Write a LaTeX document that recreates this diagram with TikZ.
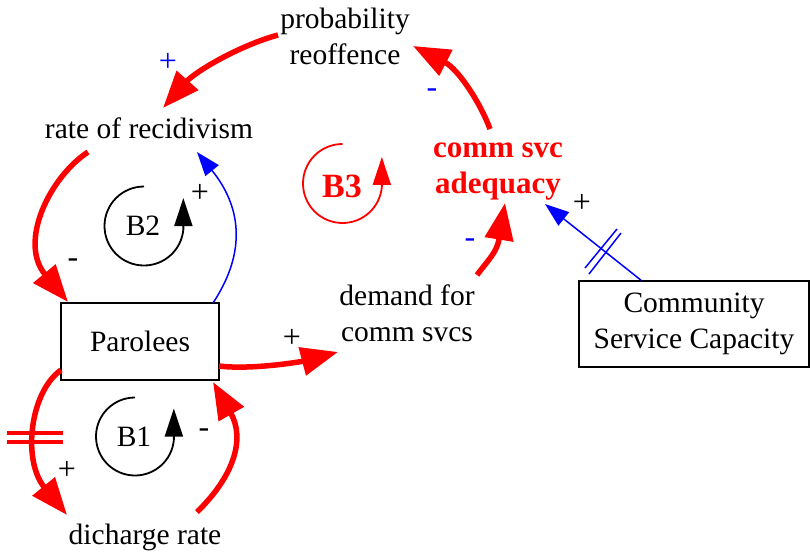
\documentclass[tikz,border=0pt]{standalone}
\usepackage{fontspec}
\setmainfont{Liberation Serif}
\usetikzlibrary{arrows.meta}
\definecolor{cldred}{RGB}{255,0,0}
\definecolor{cldblue}{RGB}{0,0,255}

\begin{document}
\begin{tikzpicture}[x=1pt,y=-1pt,
  every node/.style={inner sep=0pt, font=\fontsize{29.5}{36}\selectfont},
  varlabel/.style={align=center},
  boldlabel/.style={align=center, text=cldred, font=\fontsize{31}{36}\selectfont\bfseries},
  polarity/.style={font=\fontsize{32}{36}\selectfont},
  stock/.style={draw, line width=1.6pt, minimum width=158pt, minimum height=77pt},
  major/.style={draw=cldred, line width=5.5pt, -{Triangle[length=37pt,width=28pt]}},
  minor/.style={draw=cldblue, line width=1.5pt, -{Triangle[length=24pt,width=17pt]}},
  loopmark/.style={line width=1.8pt, -{Triangle[length=28pt,width=18pt]}},
  delaymark/.style={line width=4.5pt, draw=cldred},
  bluedelay/.style={line width=1.5pt, draw=cldblue}
]
\useasboundingbox (0,0) rectangle (811,557);

% variables
\node[varlabel] (prob) at (345,36) {probability\\reoffence};
\node[anchor=base] (rr) at (149,138) {rate of recidivism};
\node[stock] (par) at (140,341.5) {Parolees};
\node[anchor=base] (dc) at (145,544) {dicharge rate};
\node[varlabel] (dem) at (407,313) {demand for\\comm svcs};
\node[boldlabel] (adeq) at (498,172) {comm svc\\adequacy};
\node[stock, align=center, minimum width=230pt, minimum height=86pt] (comm) at (694,324) {Community\\Service Capacity};

% loop identifiers
\node (b2) at (143,226) {B2};
\node (b1) at (134,436.5) {B1};
\node[text=cldred, font=\fontsize{34}{36}\selectfont\bfseries] (b3) at (342,186.5) {B3};

\draw[loopmark] ([shift={(1,-39.5)}]b2.center) arc[start angle=-90, end angle=-355, radius=39.5] -- ++(0,-31.4);
\draw[loopmark] ([shift={(1,-39)}]b1.center) arc[start angle=-90, end angle=-355, radius=39] -- ++(0,-31.4);
\draw[loopmark, cldred] ([shift={(0.5,-42.5)}]b3.center) arc[start angle=-90, end angle=-355, radius=39.5] -- ++(0,-30);

% causal links
\draw[major] ([shift={(-67,-1)}]prob.center) .. controls +(-40,11) and +(32,-36) .. ([shift={(14,-30)}]rr.base);
\draw[major] ([shift={(-61,14)}]rr.base) .. controls +(-38,25) and +(-50,-60) .. ([shift={(-72,-39.5)}]par.center);
\draw[minor] ([shift={(73,-38.5)}]par.center) .. controls +(35,-53) and +(43,53) .. ([shift={(48,14)}]rr.base);
\draw[major] ([shift={(-79,28.5)}]par.center) .. controls +(-31,22) and +(-45,-55) .. ([shift={(-78,-29)}]dc.base);
\draw[major] ([shift={(52,-32)}]dc.base) .. controls +(38,-37) and +(32,56) .. ([shift={(73,40.5)}]par.center);
\draw[major] ([shift={(79,24.5)}]par.center) .. controls +(31,4) and +(-38,10) .. ([shift={(-69,39)}]dem.center);
\draw[major] ([shift={(70,-38)}]dem.center) .. controls +(12,-16) and +(-8,49) .. ([shift={(7,31)}]adeq.center);
\draw[major] ([shift={(-8,-43)}]adeq.center) .. controls +(-10,-27) and +(45,23) .. ([shift={(68,10)}]prob.center);
\draw[minor] ([shift={(-53,0)}]comm.north) -- ([shift={(47,32)}]adeq.center);

% delay marks
\draw[delaymark] ([shift={(-133,91.5)}]par.center) -- ([shift={(-77,91.5)}]par.center);
\draw[delaymark] ([shift={(-133,100.5)}]par.center) -- ([shift={(-77,100.5)}]par.center);
\draw[bluedelay] ([shift={(-109,-56)}]comm.center) -- ([shift={(-77,-95)}]comm.center);
\draw[bluedelay] ([shift={(-105,-50)}]comm.center) -- ([shift={(-73,-91)}]comm.center);

% link polarities
\node[polarity, text=cldblue] (s1) at (168,62) {+};
\node[polarity] (s2) at (73,263) {-};
\node[polarity] (s3) at (200,193) {+};
\node[polarity] (s4) at (67,470) {+};
\node[polarity] (s5) at (204,433) {-};
\node[polarity] (s6) at (292,338) {+};
\node[polarity, text=cldblue] (s7) at (470,243) {-};
\node[polarity, text=cldblue] (s8) at (432,93) {-};
\node[polarity] (s9) at (582,203) {+};
\end{tikzpicture}
\end{document}
